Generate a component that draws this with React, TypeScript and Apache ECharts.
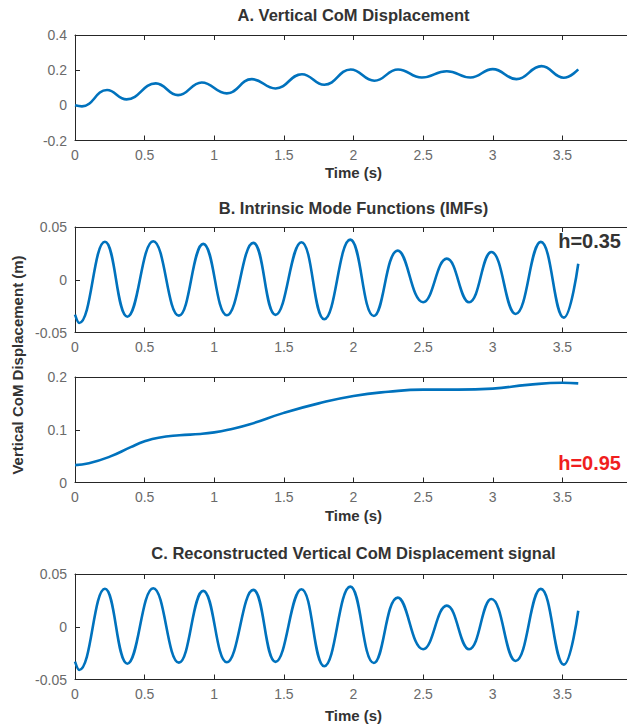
import React, { useEffect, useRef } from "react";
import * as echarts from "echarts";

// Panel A: vertical CoM displacement (m) vs time (s)
const timeA = [0, 0.05, 0.23, 0.37, 0.58, 0.74, 0.91, 1.09, 1.27, 1.44, 1.63, 1.79, 1.98, 2.15, 2.32, 2.49, 2.67, 2.84, 3.0, 3.17, 3.35, 3.51, 3.614];
const valuesA = [0.0, -0.006, 0.087, 0.034, 0.125, 0.058, 0.13, 0.068, 0.149, 0.096, 0.177, 0.117, 0.204, 0.14, 0.204, 0.158, 0.194, 0.158, 0.206, 0.149, 0.223, 0.157, 0.204];

// Panel B (top): first IMF, h = 0.35
const timeIMF = [0, 0.03, 0.215, 0.376, 0.562, 0.746, 0.921, 1.09, 1.28, 1.44, 1.626, 1.79, 1.977, 2.146, 2.318, 2.5, 2.67, 2.83, 2.99, 3.164, 3.345, 3.51, 3.614];
const valuesIMF = [-0.033, -0.041, 0.036, -0.035, 0.0365, -0.034, 0.034, -0.0337, 0.035, -0.0333, 0.0356, -0.0375, 0.038, -0.0343, 0.0276, -0.0213, 0.02, -0.0213, 0.0263, -0.0324, 0.0359, -0.0359, 0.0152];

// Panel B (bottom): residual trend, h = 0.95
const timeTrend = [0, 0.1, 0.25, 0.4, 0.5, 0.6, 0.75, 0.9, 1.0, 1.1, 1.25, 1.5, 1.75, 2.0, 2.25, 2.5, 2.75, 3.0, 3.25, 3.5, 3.614];
const valuesTrend = [0.033, 0.0365, 0.049, 0.067, 0.078, 0.085, 0.0895, 0.092, 0.095, 0.1, 0.11, 0.132, 0.15, 0.164, 0.172, 0.176, 0.176, 0.178, 0.185, 0.189, 0.188];

// Panel C: reconstructed signal (same as first IMF)
const timeRecon = timeIMF;
const valuesRecon = valuesIMF;

// Axis ranges / tick intervals
const xRange = { min: 0, max: 4, interval: 0.5 };
const yRangeA = { min: -0.2, max: 0.4, interval: 0.2 };
const yRangeIMF = { min: -0.05, max: 0.05, interval: 0.05 };
const yRangeTrend = { min: 0, max: 0.2, interval: 0.1 };

const titles = [
  "A. Vertical CoM Displacement",
  "B. Intrinsic Mode Functions (IMFs)",
  "C. Reconstructed Vertical CoM Displacement signal",
];
const xLabel = "Time (s)";
const yLabel = "Vertical CoM Displacement (m)";
const hLabels = ["h=0.35", "h=0.95"];

const FONT = "'Liberation Sans', Arial, Helvetica, sans-serif";
const LINE_BLUE = "#0072BD";
const AXIS_COLOR = "#262626";
const TICK_TEXT = "#6a6a6a";
const TEXT_DARK = "#333333";

const pairs = (t: number[], v: number[]) => t.map((x, i) => [x, v[i]]);

export default function App() {
  const ref = useRef<HTMLDivElement>(null);

  useEffect(() => {
    if (!ref.current) return;
    const chart = echarts.init(ref.current, null, { renderer: "svg" });

    const gridTops = [35, 227, 377, 574];
    const gridHeight = 105.5;
    const grids = gridTops.map((top) => ({
      left: 75,
      top,
      width: 557,
      height: gridHeight,
      show: false,
      containLabel: false,
      outerBoundsMode: "none",
    }));

    const xAxes: any[] = [];
    const yAxes: any[] = [];
    const yRanges = [yRangeA, yRangeIMF, yRangeTrend, yRangeIMF];
    gridTops.forEach((_, i) => {
      xAxes.push({
        type: "value",
        gridIndex: i,
        position: "bottom",
        ...xRange,
        axisLine: { show: true, onZero: false, lineStyle: { color: AXIS_COLOR, width: 1 } },
        axisTick: { show: true, inside: true, length: 5, lineStyle: { color: AXIS_COLOR } },
        axisLabel: { show: true, margin: 7, color: TICK_TEXT, fontSize: 14, fontFamily: FONT },
        splitLine: { show: false },
      });
      xAxes.push({
        type: "value",
        gridIndex: i,
        position: "top",
        ...xRange,
        axisLine: { show: true, onZero: false, lineStyle: { color: AXIS_COLOR, width: 1 } },
        axisTick: { show: true, inside: true, length: 5, lineStyle: { color: AXIS_COLOR } },
        axisLabel: { show: false },
        splitLine: { show: false },
      });
      yAxes.push({
        type: "value",
        gridIndex: i,
        position: "left",
        ...yRanges[i],
        axisLine: { show: true, onZero: false, lineStyle: { color: AXIS_COLOR, width: 1 } },
        axisTick: { show: true, inside: true, length: 5, lineStyle: { color: AXIS_COLOR } },
        axisLabel: { show: true, margin: 8, color: TICK_TEXT, fontSize: 14, fontFamily: FONT },
        splitLine: { show: false },
      });
      yAxes.push({
        type: "value",
        gridIndex: i,
        position: "right",
        ...yRanges[i],
        axisLine: { show: true, onZero: false, lineStyle: { color: AXIS_COLOR, width: 1 } },
        axisTick: { show: true, inside: true, length: 5, lineStyle: { color: AXIS_COLOR } },
        axisLabel: { show: false },
        splitLine: { show: false },
      });
    });

    const datasets = [
      pairs(timeA, valuesA),
      pairs(timeIMF, valuesIMF),
      pairs(timeTrend, valuesTrend),
      pairs(timeRecon, valuesRecon),
    ];
    const smoothness = [0.45, 0.45, 0.5, 0.45];

    const series = datasets.map((data, i) => ({
      type: "line",
      xAxisIndex: i * 2,
      yAxisIndex: i * 2,
      data,
      smooth: smoothness[i],
      showSymbol: false,
      symbol: "none",
      lineStyle: { color: LINE_BLUE, width: 2.6 },
      z: 3,
    }));

    const centerX = 75 + 557 / 2;
    const text = (t: string, x: number, y: number, size: number, color: string, align = "center", rotation = 0) => ({
      type: "text",
      x,
      y,
      rotation,
      style: {
        text: t,
        fontSize: size,
        fontWeight: "bold",
        fontFamily: FONT,
        fill: color,
        textAlign: align,
        textVerticalAlign: "middle",
      },
    });

    const graphic = [
      text(titles[0], centerX, 15, 16.5, TEXT_DARK),
      text(titles[1], centerX, 208, 16.5, TEXT_DARK),
      text(titles[2], centerX, 553, 16.5, TEXT_DARK),
      text(xLabel, centerX, 172, 15, TEXT_DARK),
      text(xLabel, centerX, 515, 15, TEXT_DARK),
      text(xLabel, centerX, 715, 15, TEXT_DARK),
      text(yLabel, 17, 365, 15, TEXT_DARK, "center", Math.PI / 2),
      text(hLabels[0], 621, 241, 20, TEXT_DARK, "right"),
      text(hLabels[1], 621, 463, 20, "#f01e1e", "right"),
    ];

    chart.setOption({
      animation: false,
      backgroundColor: "#ffffff",
      grid: grids,
      xAxis: xAxes,
      yAxis: yAxes,
      series,
      graphic,
    });

    return () => chart.dispose();
  }, []);

  return (
    <div
      ref={ref}
      style={{ position: "fixed", left: 0, top: 0, width: 627, height: 726, background: "#fff" }}
    />
  );
}
